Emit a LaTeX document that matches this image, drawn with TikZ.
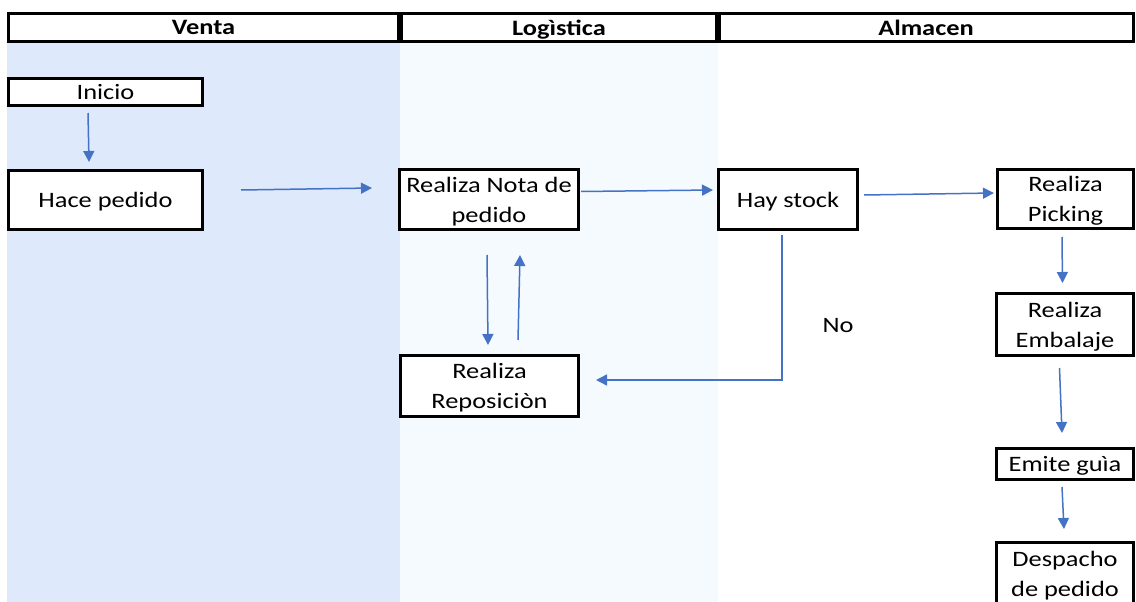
\documentclass[tikz,border=0pt]{standalone}
\usepackage{fontspec}
\setmainfont{Carlito}[FakeStretch=1.2]
\usetikzlibrary{arrows.meta,calc}
\definecolor{flowblue}{HTML}{4472C4}
\definecolor{ventabg}{HTML}{DEE9FC}
\definecolor{logbg}{HTML}{F5FAFF}
\tikzset{
  box/.style={draw=black, line width=3pt, fill=white, inner sep=0pt, align=center,
    text depth=0pt, font=\fontsize{22}{30}\selectfont},
  lanehead/.style={draw=black, line width=3pt, inner sep=0pt, text depth=0pt,
    font=\fontsize{22}{24}\selectfont\bfseries},
  arr/.style={draw=flowblue, line width=1.5pt, -{Triangle[length=11pt,width=11pt]}},
  lbl/.style={inner sep=0pt, font=\fontsize{22}{30}\selectfont}
}
\begin{document}
\begin{tikzpicture}[x=1pt,y=-1pt]
\useasboundingbox (0,0) rectangle (1136,602);
\clip (0,0) rectangle (1136,602);

% swimlane backgrounds
\fill[ventabg] (7,43) rectangle (400,602);
\fill[logbg] (400,43) rectangle (718,602);

% lane headers
\node[lanehead, minimum width=390pt, minimum height=28pt] (hventa) at (203.5,27.5) {Venta};
\node[lanehead, minimum width=315pt, minimum height=28pt] (hlog) at (559,27.5) {Logìstica};
\node[lanehead, minimum width=414pt, minimum height=28pt] (halm) at (926,27.5) {Almacen};

% process steps
\node[box, minimum width=194pt, minimum height=27pt] (ini) at (105.5,92) {Inicio};
\node[box, minimum width=194pt, minimum height=59pt] (hace) at (105.5,200) {Hace pedido};
\node[box, minimum width=179pt, minimum height=60pt] (nota) at (489,199.5) {Realiza Nota de\\pedido};
\node[box, minimum width=139pt, minimum height=60pt] (hay) at (788,199.5) {Hay stock};
\node[box, minimum width=136pt, minimum height=59pt] (pick) at (1065.5,199) {Realiza\\Picking};
\node[box, minimum width=178pt, minimum height=61pt] (repo) at (489.5,386) {Realiza\\Reposiciòn};
\node[box, minimum width=137pt, minimum height=62pt] (emb) at (1065,324.5) {Realiza\\Embalaje};
\node[box, minimum width=137pt, minimum height=31pt] (emite) at (1065,464) {Emite guìa};
\node[box, minimum width=137pt, minimum height=63pt] (desp) at (1065,574) {Despacho\\de pedido};

% connectors
\draw[arr] ($(ini.south)+(-17.5,6)$) -- ($(hace.north)+(-16.5,-7)$);
\draw[arr] ($(hace.east)+(37,-10)$) -- ($(nota.west)+(-26,-11.5)$);
\draw[arr] ($(nota.east)+(1,-8)$) -- ($(hay.west)+(-4,-9.5)$);
\draw[arr] ($(hay.east)+(5,-4.5)$) -- ($(pick.west)+(-2,-6)$);
\draw[arr] ($(nota.south)+(-2,24)$) -- ($(repo.north)+(-1.5,-9)$);
\draw[arr] ($(repo.north)+(28.5,-14)$) -- ($(nota.south)+(31,24)$);
\draw[arr] ($(hay.south)+(-6,4)$) |- ($(repo.east)+(16,-6)$);
\draw[arr] ($(pick.south)+(-3.5,7)$) -- ($(emb.north)+(-2.5,-9)$);
\draw[arr] ($(emb.south)+(-5.5,11)$) -- ($(emite.north)+(-3,-14)$);
\draw[arr] ($(emite.south)+(-3,6)$) -- ($(desp.north)+(-1,-12)$);

\node[lbl] (no) at (838,326) {No};
\end{tikzpicture}
\end{document}
